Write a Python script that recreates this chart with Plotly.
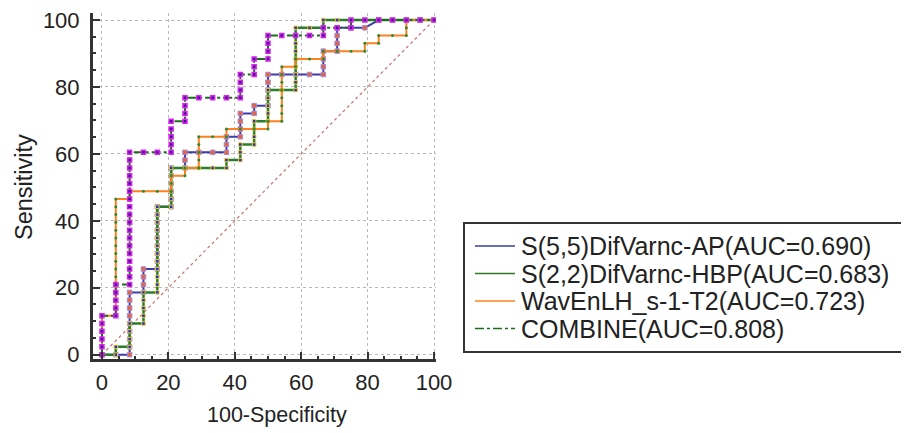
import plotly.graph_objects as go

# ---------------- data ----------------
# Counts: 24 negative cases (specificity steps), 43 positive cases (sensitivity steps)
N_NEG = 24
N_POS = 43

# Sensitivity (count of true positives) reached at each false-positive count 0..24
ap_tp = [0, 0, 8, 11, 19, 24, 26, 26, 26, 28, 31, 32, 36, 36, 36, 36, 39, 42, 42, 42, 43, 43, 43, 43, 43]
ap_tied = [20]  # reached by a diagonal (tied criterion value)
hbp_tp = [0, 1, 4, 8, 19, 24, 24, 24, 24, 25, 27, 30, 34, 34, 42, 42, 43, 43, 43, 43, 43, 43, 43, 43, 43]
wav_tp = [5, 20, 21, 21, 21, 23, 24, 28, 28, 29, 29, 29, 30, 37, 38, 38, 39, 39, 39, 40, 41, 41, 43, 43, 43]
comb_tp = [5, 9, 26, 26, 26, 30, 33, 33, 33, 33, 36, 38, 41, 41, 41, 41, 42, 42, 43, 43, 43, 43, 43, 43, 43]

names = [
    "S(5,5)DifVarnc-AP(AUC=0.690)",
    "S(2,2)DifVarnc-HBP(AUC=0.683)",
    "WavEnLH_s-1-T2(AUC=0.723)",
    "COMBINE(AUC=0.808)",
]
x_title = "100-Specificity"
y_title = "Sensitivity"
tick_vals = [0, 20, 40, 60, 80, 100]
ref_line = [0, 100]


def roc_points(tp_counts, tied=()):
    xs, ys = [], []
    prev = 0
    for k, tp in enumerate(tp_counts):
        if k in tied:
            xs.append(k); ys.append(tp)
        else:
            for c in range(prev, tp + 1):
                xs.append(k); ys.append(c)
        prev = tp
    return [x * 100.0 / N_NEG for x in xs], [y * 100.0 / N_POS for y in ys]


fig = go.Figure()

# reference diagonal
fig.add_trace(go.Scatter(x=ref_line, y=ref_line, mode="lines",
                         line=dict(color="#cc6e6e", width=1.2, dash="dot"),
                         showlegend=False, hoverinfo="skip"))

line_styles = [
    dict(color="#3c3caa", width=2),
    dict(color="#2a7d2a", width=2.5),
    dict(color="#ff8020", width=2),
    dict(color="#1a6e1a", width=2, dash="dashdot"),
]
marker_styles = [
    dict(symbol="square", size=4.5, color="#e8643a", line=dict(color="#a08ad8", width=1)),
    dict(symbol="square", size=3.5, color="#2a2ad0", line=dict(color="#e8d030", width=1)),
    dict(symbol="circle", size=3, color="#2f8a2f", line=dict(width=0)),
    dict(symbol="square", size=4, color="#3a1690", line=dict(color="#e020f0", width=1.5)),
]
series = [roc_points(ap_tp, ap_tied), roc_points(hbp_tp), roc_points(wav_tp), roc_points(comb_tp)]

for (xs, ys), ln, mk in zip(series, line_styles, marker_styles):
    fig.add_trace(go.Scatter(x=xs, y=ys, mode="lines+markers", line=ln,
                             marker=mk, showlegend=False))

# the page adds an 8 px body margin, so the figure is drawn 8 px smaller/offset
OFF = 8
W, H = 909 - OFF, 433 - OFF
ML, MR, MT, MB = 93 - OFF, 909 - 436, 13 - OFF, 433 - 359
pw, ph = W - ML - MR, H - MT - MB


def px2paper_x(px):
    return (px - OFF - ML) / pw


def px2paper_y(py):
    return (H - MB - (py - OFF)) / ph


axis_common = dict(
    tickvals=tick_vals, showgrid=True, gridcolor="#b8b8b8", griddash="dot", gridwidth=1,
    showline=True, linecolor="#333333", linewidth=3, mirror=False,
    ticks="inside", ticklen=7, tickwidth=2, tickcolor="#333333",
    minor=dict(dtick=5, tick0=0, ticks="inside", ticklen=3, tickwidth=1.5,
               tickcolor="#333333", showgrid=False),
    zeroline=False, tickfont=dict(size=22, color="#222"), automargin=False,
    ticklabeloverflow="allow",
)

# legend drawn as box + line samples + text
legend_rows_y = [246, 273.5, 301, 328.5]
shapes = [dict(type="rect", xref="paper", yref="paper",
               x0=px2paper_x(464), x1=px2paper_x(907),
               y0=px2paper_y(352), y1=px2paper_y(223),
               line=dict(color="#333333", width=2), fillcolor="rgba(0,0,0,0)")]
annotations = []
legend_sample = [
    dict(color="#3c3caa", width=1.5),
    dict(color="#2a7d2a", width=1.5),
    dict(color="#ff8020", width=1.5),
    dict(color="#1a6e1a", width=1.5, dash="dashdot"),
]
for nm, ln, ry in zip(names, legend_sample, legend_rows_y):
    shapes.append(dict(type="line", xref="paper", yref="paper",
                       x0=px2paper_x(475), x1=px2paper_x(515),
                       y0=px2paper_y(ry), y1=px2paper_y(ry), line=ln))
    annotations.append(dict(text=nm, xref="paper", yref="paper",
                            x=px2paper_x(519), y=px2paper_y(ry),
                            xanchor="left", yanchor="middle", showarrow=False,
                            font=dict(size=25, color="#222")))

# axis titles
annotations.append(dict(text=x_title, xref="paper", yref="paper",
                        x=px2paper_x(277), y=px2paper_y(415),
                        xanchor="center", yanchor="middle", showarrow=False,
                        font=dict(size=21.5, color="#222")))
annotations.append(dict(text=y_title, xref="paper", yref="paper",
                        x=px2paper_x(24), y=px2paper_y(187), textangle=-90,
                        xanchor="center", yanchor="middle", showarrow=False,
                        font=dict(size=23.5, color="#222")))

fig.update_layout(
    width=W, height=H, margin=dict(l=ML, r=MR, t=MT, b=MB),
    plot_bgcolor="white", paper_bgcolor="white",
    font=dict(family="Liberation Sans, Arial, sans-serif", size=22, color="#222"),
    xaxis=dict(range=[-2.7, 100.6], ticklabelstandoff=2, **axis_common),
    yaxis=dict(range=[-1.3, 102.1], ticklabelstandoff=6, **axis_common),
    showlegend=False,
    shapes=shapes,
    annotations=annotations,
)

fig.write_html("out.html")
